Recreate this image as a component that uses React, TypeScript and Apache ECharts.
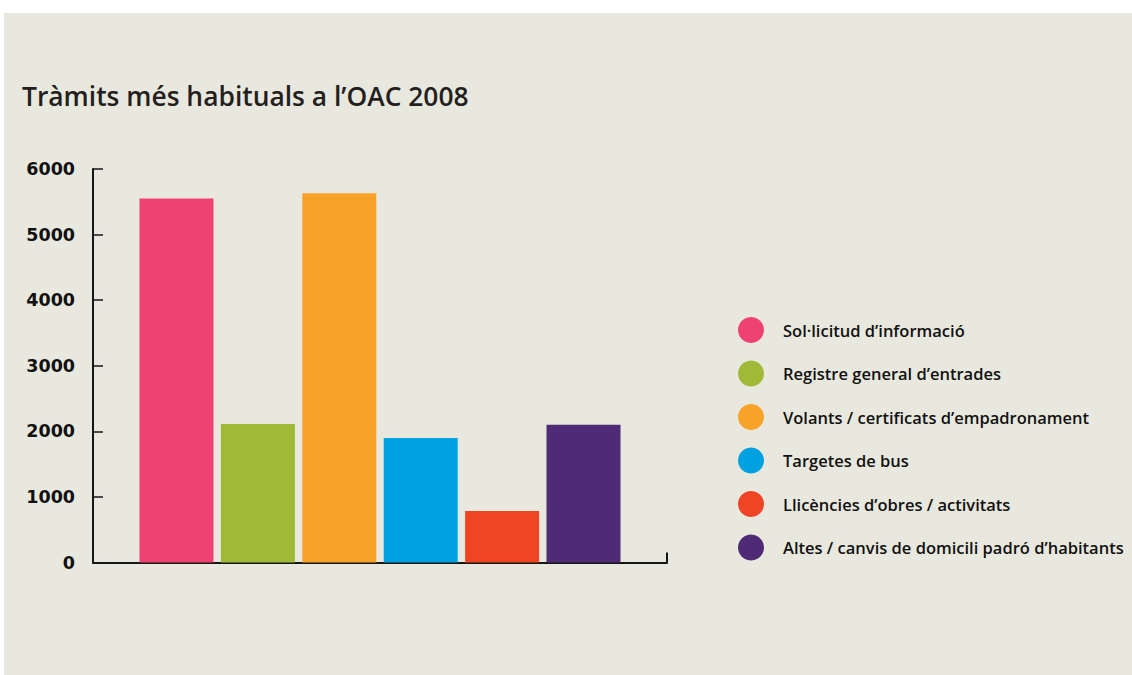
import React, { useEffect, useRef } from "react";
import * as echarts from "echarts";

const categories = ["2008"];
const seriesNames = [
  "Sol·licitud d’informació",
  "Registre general d’entrades",
  "Volants / certificats d’empadronament",
  "Targetes de bus",
  "Llicències d’obres / activitats",
  "Altes / canvis de domicili padró d’habitants",
];
const seriesValues = [5550, 2110, 5630, 1900, 785, 2100];
const seriesColors = ["#ef4270", "#a0ba38", "#f9a229", "#00a1e0", "#ef4524", "#4f2a75"];
const yTicks = [0, 1000, 2000, 3000, 4000, 5000, 6000];
const titleText = "Tràmits més habituals a l’OAC 2008";

export default function App() {
  const ref = useRef<HTMLDivElement>(null);
  useEffect(() => {
    if (!ref.current) return;
    const chart = echarts.init(ref.current, undefined, { renderer: "svg" });
    const axisColor = "#161616";
    chart.setOption({
      animation: false,
      backgroundColor: "#ffffff",
      graphic: [
        {
          type: "rect",
          z: -10,
          silent: true,
          shape: { x: 4, y: 13, width: 1128, height: 662 },
          style: { fill: "#e9e8de" },
        },
        {
          type: "text",
          x: 22,
          y: 96,
          style: {
            text: titleText,
            fill: "#231f20",
            fontFamily: "Open Sans",
            fontWeight: 600,
            fontSize: 26.4,
            verticalAlign: "middle",
          },
        },
      ],
      legend: {
        orient: "vertical",
        left: 738,
        top: 317,
        padding: 0,
        itemWidth: 26,
        itemHeight: 26,
        itemGap: 17.5,
        icon: "circle",
        textStyle: {
          fontFamily: "Open Sans",
          fontWeight: 600,
          fontSize: 16.5,
          color: "#111111",
          padding: [0, 0, 0, 14],
        },
        data: seriesNames,
      },
      grid: { left: 93, top: 169, width: 574, height: 393.5, containLabel: false },
      xAxis: {
        type: "category",
        data: categories,
        boundaryGap: true,
        axisLine: { show: true, lineStyle: { color: axisColor, width: 2 } },
        axisTick: { show: true, inside: true, length: 10, lineStyle: { color: axisColor, width: 2 } },
        axisLabel: { show: false },
      },
      yAxis: {
        type: "value",
        min: 0,
        max: 6000,
        interval: 1000,
        axisLine: { show: true, lineStyle: { color: axisColor, width: 2 } },
        axisTick: { show: true, inside: true, length: 10, lineStyle: { color: axisColor, width: 1.5 } },
        splitLine: { show: false },
        axisLabel: {
          margin: 18,
          color: "#111111",
          fontFamily: "DejaVu Sans",
          fontWeight: "bold",
          fontSize: 17.5,
          formatter: (v: number) => (yTicks.includes(v) ? String(v) : ""),
        },
      },
      series: seriesNames.map((name, i) => ({
        name,
        type: "bar",
        data: [seriesValues[i]],
        barWidth: 74,
        barGap: "10%",
        itemStyle: { color: seriesColors[i] },
      })),
    });
    return () => chart.dispose();
  }, []);
  return (
    <div
      ref={ref}
      style={{ position: "fixed", left: 0, top: 0, width: 1132, height: 675 }}
    />
  );
}
